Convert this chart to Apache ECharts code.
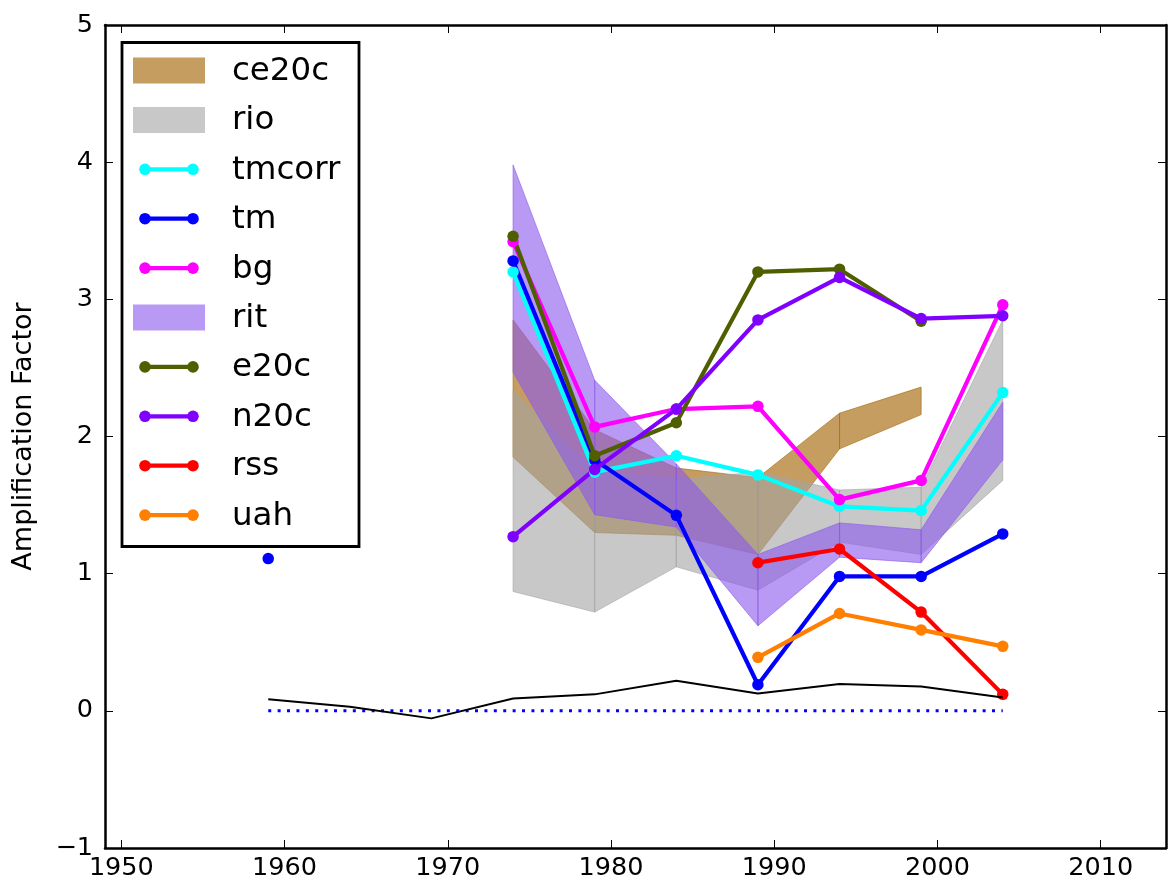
<!DOCTYPE html>
<html>
<head>
<meta charset="utf-8">
<script src="https://cdn.jsdelivr.net/npm/echarts@6/dist/echarts.min.js"></script>
<style>
  html, body { margin: 0; padding: 0; background: #fff; }
  #chart { width: 1169px; height: 884px; }
</style>
</head>
<body>
<div id="chart"></div>
<script>
// Five-year periods (centre years)
const years = [1959, 1964, 1969, 1974, 1979, 1984, 1989, 1994, 1999, 2004];

// Amplification factor per dataset (null = no value for that period)
const tmcorr = [null, null, null, 3.20, 1.74, 1.86, 1.72, 1.49, 1.46, 2.32];
const tm     = [1.11, null, null, 3.28, 1.83, 1.425, 0.19, 0.98, 0.98, 1.29];
const bg     = [null, null, null, 3.42, 2.07, 2.20, 2.22, 1.54, 1.68, 2.96];
const e20c   = [null, null, null, 3.46, 1.86, 2.10, 3.20, 3.22, 2.84, null];
const n20c   = [null, null, null, 1.27, 1.76, 2.20, 2.85, 3.16, 2.86, 2.88];
const rss    = [null, null, null, null, null, null, 1.08, 1.18, 0.72, 0.12];
const uah    = [null, null, null, null, null, null, 0.39, 0.71, 0.59, 0.47];
const diff   = [0.085, 0.03, -0.055, 0.09, 0.12, 0.22, 0.127, 0.195, 0.178, 0.098];
const zeroRef = [0, 0, 0, 0, 0, 0, 0, 0, 0, 0];

// Ensemble ranges (lower / upper bound per period)
const ce20cLo = [null, null, null, 1.85, 1.30, 1.28, 1.14, 1.91, 2.16, null];
const ce20cHi = [null, null, null, 2.85, 2.05, 1.77, 1.70, 2.17, 2.36, null];
const rioLo   = [null, null, null, 0.87, 0.72, 1.05, 0.88, 1.23, 1.14, 1.68];
const rioHi   = [null, null, null, 2.33, 1.75, 1.69, 1.74, 1.61, 1.63, 2.85];
const ritLo   = [null, null, null, 2.47, 1.43, 1.34, 0.62, 1.12, 1.08, 1.83];
const ritHi   = [null, null, null, 3.98, 2.41, 1.80, 1.14, 1.37, 1.32, 2.25];

// Axis ticks
const xTicks = [1950, 1960, 1970, 1980, 1990, 2000, 2010];
const yTicks = [-1, 0, 1, 2, 3, 4, 5];

const FONT = 'DejaVu Sans';
const COL = {
  ce20c: 'rgba(170,110,20,0.68)',
  rio: 'rgba(163,163,163,0.6)',
  rit: 'rgba(140,90,235,0.62)',
  tmcorr: '#00ffff',
  tm: '#0000ff',
  bg: '#ff00ff',
  e20c: '#4f5f00',
  n20c: '#7f00ff',
  rss: '#ff0000',
  uah: '#ff7f00'
};

function pairs(vals) {
  return years.map((y, i) => [y, vals[i]]);
}

function bandSeries(name, lo, hi, color) {
  const segs = [];
  for (let i = 0; i + 1 < years.length; i++) {
    if (lo[i] == null || lo[i + 1] == null) continue;
    segs.push([years[i], lo[i], hi[i], years[i + 1], lo[i + 1], hi[i + 1]]);
  }
  return {
    name: name,
    type: 'custom',
    z: 1,
    silent: true,
    data: segs,
    encode: { x: [0, 3], y: [1, 2, 4, 5] },
    renderItem: function (params, api) {
      const p0l = api.coord([api.value(0), api.value(1)]);
      const p0h = api.coord([api.value(0), api.value(2)]);
      const p1l = api.coord([api.value(3), api.value(4)]);
      const p1h = api.coord([api.value(3), api.value(5)]);
      return {
        type: 'polygon',
        shape: { points: [p0l, p1l, p1h, p0h] },
        style: { fill: color, stroke: color, lineWidth: 1 }
      };
    }
  };
}

function lineSeries(name, vals, color) {
  return {
    name: name,
    type: 'line',
    z: 3,
    data: pairs(vals),
    connectNulls: false,
    symbol: 'circle',
    symbolSize: 11.5,
    showSymbol: true,
    lineStyle: { color: color, width: 4.2 },
    itemStyle: { color: color },
    emphasis: { disabled: true },
    silent: true
  };
}

const series = [
  bandSeries('ce20c', ce20cLo, ce20cHi, COL.ce20c),
  bandSeries('rio', rioLo, rioHi, COL.rio),
  bandSeries('rit', ritLo, ritHi, COL.rit),
  lineSeries('tmcorr', tmcorr, COL.tmcorr),
  lineSeries('tm', tm, COL.tm),
  lineSeries('bg', bg, COL.bg),
  lineSeries('e20c', e20c, COL.e20c),
  lineSeries('n20c', n20c, COL.n20c),
  lineSeries('rss', rss, COL.rss),
  lineSeries('uah', uah, COL.uah),
  {
    name: 'zero', type: 'line', z: 4, silent: true, showSymbol: false, symbol: 'none',
    data: pairs(zeroRef),
    lineStyle: { color: '#0000ff', width: 3, type: [3, 6.4] }
  },
  {
    name: 'diff', type: 'line', z: 4, silent: true, showSymbol: false, symbol: 'none',
    data: pairs(diff),
    lineStyle: { color: '#000000', width: 2 }
  }
];

// Legend: band swatches and line keys in a framed box
const legendItems = [
  { name: 'ce20c', kind: 'band' },
  { name: 'rio', kind: 'band' },
  { name: 'tmcorr', kind: 'line' },
  { name: 'tm', kind: 'line' },
  { name: 'bg', kind: 'line' },
  { name: 'rit', kind: 'band' },
  { name: 'e20c', kind: 'line' },
  { name: 'n20c', kind: 'line' },
  { name: 'rss', kind: 'line' },
  { name: 'uah', kind: 'line' }
];

const legendEls = [{
  type: 'rect', z: 100,
  shape: { x: 122, y: 42.5, width: 237, height: 504 },
  style: { fill: '#ffffff', stroke: '#000000', lineWidth: 2.8 }
}];
legendItems.forEach((it, i) => {
  const cy = 70.5 + i * 49.4;
  const c = COL[it.name];
  if (it.kind === 'band') {
    legendEls.push({ type: 'rect', z: 101, shape: { x: 133, y: cy - 13, width: 72, height: 26 }, style: { fill: c } });
  } else {
    legendEls.push({ type: 'line', z: 101, shape: { x1: 145, y1: cy, x2: 193, y2: cy }, style: { stroke: c, lineWidth: 4.2 } });
    legendEls.push({ type: 'circle', z: 102, shape: { cx: 145, cy: cy, r: 5.8 }, style: { fill: c } });
    legendEls.push({ type: 'circle', z: 102, shape: { cx: 193, cy: cy, r: 5.8 }, style: { fill: c } });
  }
  legendEls.push({
    type: 'text', z: 101, x: 232, y: cy + 1,
    style: { text: it.name, fill: '#000', font: '32.5px "' + FONT + '"', textVerticalAlign: 'middle', textAlign: 'left' }
  });
});

const minus = v => (v < 0 ? '\u2212' + Math.abs(v) : String(v));

const tickStyle = { show: true, inside: true, length: 8, lineStyle: { color: '#000', width: 1 } };
const frameLine = { show: true, onZero: false, lineStyle: { color: '#000', width: 2.5 } };

const option = {
  animation: false,
  backgroundColor: '#ffffff',
  grid: { left: 105, right: 3, top: 25, bottom: 36, containLabel: false },
  xAxis: [
    {
      type: 'value', min: 1949, max: 2014, position: 'bottom',
      axisLine: frameLine,
      axisTick: Object.assign({ customValues: xTicks }, tickStyle),
      axisLabel: { customValues: xTicks, formatter: v => String(v), color: '#000', fontSize: 25.5, fontFamily: FONT, margin: 7 },
      splitLine: { show: false }
    },
    {
      type: 'value', min: 1949, max: 2014, position: 'top',
      axisLine: frameLine,
      axisTick: Object.assign({ customValues: xTicks }, tickStyle),
      axisLabel: { show: false },
      splitLine: { show: false }
    }
  ],
  yAxis: [
    {
      type: 'value', min: -1, max: 5, interval: 1, position: 'left',
      axisLine: frameLine,
      axisTick: tickStyle,
      axisLabel: { formatter: minus, color: '#000', fontSize: 25.5, fontFamily: FONT, margin: 12 },
      splitLine: { show: false },
      name: 'Amplification Factor', nameLocation: 'middle', nameGap: 68,
      nameTextStyle: { color: '#000', fontSize: 27, fontFamily: FONT }
    },
    {
      type: 'value', min: -1, max: 5, interval: 1, position: 'right',
      axisLine: frameLine,
      axisTick: tickStyle,
      axisLabel: { show: false },
      splitLine: { show: false }
    }
  ],
  series: series,
  graphic: { elements: legendEls }
};

const chart = echarts.init(document.getElementById('chart'), null, { renderer: 'canvas' });
chart.setOption(option);
</script>
</body>
</html>
